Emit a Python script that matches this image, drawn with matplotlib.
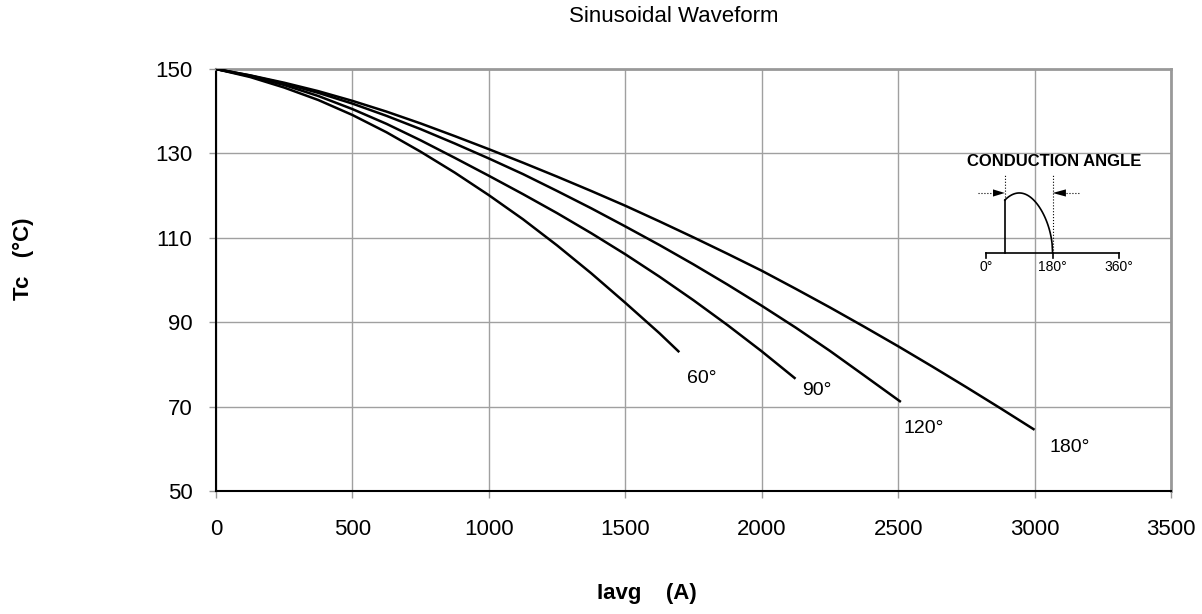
import numpy as np
import matplotlib.pyplot as plt

plt.rcParams['font.family'] = ['Liberation Sans', 'DejaVu Sans']

# curve data: Iavg (A) vs Tc (degC)
x_60 = [0, 125, 250, 375, 500, 625, 750, 875, 1000, 1125, 1250, 1375, 1500, 1625, 1698]
y_60 = [150, 148.1, 145.6, 142.65, 139.1, 135.0, 130.4, 125.45, 120.1, 114.4, 108.2,
        101.6, 94.6, 87.4, 82.9]

x_90 = [0, 125, 250, 375, 500, 625, 750, 875, 1000, 1125, 1250, 1375, 1500, 1625,
        1750, 1875, 2000, 2124]
y_90 = [150, 148.3, 146.2, 143.6, 140.5, 137.0, 133.1, 128.95, 124.7, 120.35, 115.85,
        111.1, 106.1, 100.8, 95.2, 89.3, 83.1, 76.6]

x_120 = [0, 125, 250, 375, 500, 625, 750, 875, 1000, 1125, 1250, 1375, 1500, 1625,
         1750, 1875, 2000, 2125, 2250, 2375, 2510]
y_120 = [150, 148.45, 146.55, 144.35, 141.8, 138.9, 135.75, 132.35, 128.8, 125.1, 121.1,
         117.0, 112.7, 108.3, 103.7, 98.9, 93.9, 88.7, 83.2, 77.4, 71.1]

x_180 = [0, 125, 250, 375, 500, 625, 750, 875, 1000, 1125, 1250, 1375, 1500, 1625,
         1750, 1875, 2000, 2125, 2250, 2375, 2500, 2625, 2750, 2875, 3000]
y_180 = [150, 148.5, 146.75, 144.75, 142.45, 139.9, 137.1, 134.1, 131.0, 127.8, 124.5,
         121.1, 117.6, 113.9, 110.1, 106.2, 102.2, 97.9, 93.5, 88.95, 84.3, 79.5,
         74.6, 69.6, 64.5]

curve_labels = ["60°", "90°", "120°", "180°"]
label_x = [1780, 2203, 2594, 3130]
label_y = [76.6, 73.7, 64.9, 60.2]

xticks = [0, 500, 1000, 1500, 2000, 2500, 3000, 3500]
yticks = [50, 70, 90, 110, 130, 150]

fig = plt.figure(figsize=(12.02, 6.14), dpi=100)
ax = fig.add_axes([216 / 1202, 1 - 491 / 614, 955 / 1202, 422 / 614])

for xs, ys in [(x_60, y_60), (x_90, y_90), (x_120, y_120), (x_180, y_180)]:
    ax.plot(xs, ys, color='black', lw=1.8, solid_capstyle='butt',
            solid_joinstyle='round', zorder=3)

for t, lx, ly in zip(curve_labels, label_x, label_y):
    ax.text(lx, ly, t, fontsize=14, ha='center', va='center')

ax.set_xlim(0, 3500)
ax.set_ylim(50, 150)
ax.set_xticks(xticks)
ax.set_yticks(yticks)
ax.tick_params(axis='both', labelsize=16, length=5, color='#999999', width=1)
ax.tick_params(axis='x', pad=15)
ax.tick_params(axis='y', pad=12)
ax.grid(True, color='#a0a0a0', lw=1)
ax.set_axisbelow(True)

ax.spines['left'].set_color('black')
ax.spines['bottom'].set_color('black')
ax.spines['left'].set_linewidth(1.5)
ax.spines['bottom'].set_linewidth(1.5)
ax.spines['top'].set_color('#999999')
ax.spines['right'].set_color('#999999')
ax.spines['top'].set_linewidth(2)
ax.spines['right'].set_linewidth(2)

fig.text(674 / 1202, 1 - 16 / 614, "Sinusoidal Waveform", fontsize=16,
         ha='center', va='center')
fig.text(647 / 1202, 1 - 593 / 614, "Iavg    (A)", fontsize=16,
         fontweight='bold', ha='center', va='center')
fig.text(23 / 1202, 1 - 259 / 614, "Tc   (°C)", fontsize=16,
         fontweight='bold', ha='center', va='center', rotation=90)

# conduction angle sketch
ins = fig.add_axes([0.8018, 0.5391, 0.1478, 0.2248])
ins.set_xlim(-60, 420)
ins.set_ylim(-0.5, 1.8)
ins.axis('off')

ins.plot([0, 360], [0, 0], color='black', lw=1.2)
for d in [0, 180, 360]:
    ins.plot([d, d], [0, -0.08], color='black', lw=1.2)
    ins.text(d, -0.23, f"{d}°", fontsize=10, ha='center', va='center')

th = np.linspace(51, 180, 100)
wave = np.sqrt(np.sin(np.radians(th)))
ins.plot([51, 51], [0, wave[0]], color='black', lw=1.2)
ins.plot(th, wave, color='black', lw=1.2)

ins.plot([51, 51], [wave[0], 1.3], color='black', lw=0.8, ls=':')
ins.plot([180, 180], [0, 1.3], color='black', lw=0.8, ls=':')
ins.plot([-22, 19], [1.0, 1.0], color='black', lw=0.8, ls=':')
ins.plot([216, 251], [1.0, 1.0], color='black', lw=0.8, ls=':')
ins.fill([19, 51, 19], [1.06, 1.0, 0.94], color='black', lw=0)
ins.fill([216, 180, 216], [1.06, 1.0, 0.94], color='black', lw=0)

ins.text(183, 1.52, "CONDUCTION ANGLE", fontsize=12, fontweight='bold',
         ha='center', va='center')

fig.savefig('out.png', dpi=100)
